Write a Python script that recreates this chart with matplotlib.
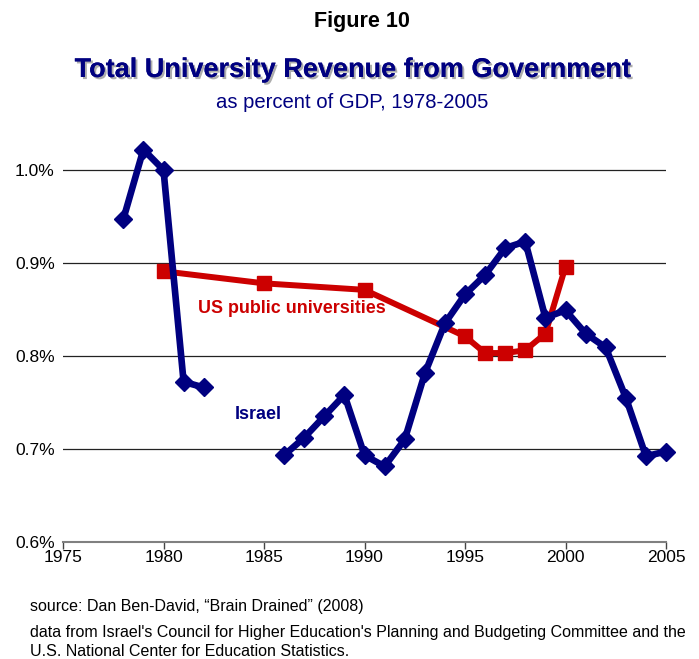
import matplotlib
matplotlib.use("Agg")
import matplotlib.pyplot as plt
import matplotlib.patheffects as pe

# Israel: gap between 1982 and 1986
isr_years1 = [1978, 1979, 1980, 1981, 1982]
isr_vals1 = [0.947, 1.022, 1.000, 0.772, 0.766]
isr_years2 = [1986, 1987, 1988, 1989, 1990, 1991, 1992, 1993, 1994, 1995,
              1996, 1997, 1998, 1999, 2000, 2001, 2002, 2003, 2004, 2005]
isr_vals2 = [0.693, 0.712, 0.735, 0.758, 0.693, 0.681, 0.710, 0.781, 0.835, 0.866,
             0.887, 0.916, 0.923, 0.841, 0.849, 0.824, 0.809, 0.755, 0.692, 0.697]

us_years = [1980, 1985, 1990, 1995, 1996, 1997, 1998, 1999, 2000]
us_vals = [0.891, 0.878, 0.871, 0.821, 0.803, 0.803, 0.806, 0.824, 0.896]

yticks = [0.6, 0.7, 0.8, 0.9, 1.0]
ytick_labels = ["0.6%", "0.7%", "0.8%", "0.9%", "1.0%"]
xticks = [1975, 1980, 1985, 1990, 1995, 2000, 2005]

navy = "#000080"
red = "#CC0000"
font = "Liberation Sans"

fig = plt.figure(figsize=(6.99, 6.59), dpi=100)
ax = fig.add_axes([63 / 699, 1 - 541.7 / 659, (666 - 63) / 699, (541.7 - 130) / 659])

for y in [0.7, 0.8, 0.9, 1.0]:
    ax.axhline(y, color="#222222", lw=0.9, zorder=1)

ax.plot(us_years, us_vals, color=red, lw=4.3, marker="s", ms=9.5,
        solid_joinstyle="round", zorder=3, clip_on=False)
ax.plot(isr_years1, isr_vals1, color=navy, lw=4.8, marker="D", ms=9.5,
        solid_joinstyle="round", zorder=4, clip_on=False)
ax.plot(isr_years2, isr_vals2, color=navy, lw=4.8, marker="D", ms=9.5,
        solid_joinstyle="round", zorder=4, clip_on=False)

ax.text(1986.4, 0.851, "US public universities", color=red, fontsize=12.9,
        fontweight="bold", family=font, ha="center", va="center")
ax.text(1984.7, 0.737, "Israel", color=navy, fontsize=13,
        fontweight="bold", family=font, ha="center", va="center")

ax.set_xlim(1975, 2005)
ax.set_ylim(0.6, 1.043)
ax.set_xticks(xticks)
ax.set_xticklabels([str(x) for x in xticks], family=font, fontsize=12.5)
ax.set_yticks(yticks)
ax.set_yticklabels(ytick_labels, family=font, fontsize=12.5)
ax.tick_params(axis="y", length=0, pad=6)
ax.tick_params(axis="x", length=5, width=1, color="#444444", pad=1, direction="out")
for s in ["top", "right", "left"]:
    ax.spines[s].set_visible(False)
ax.spines["bottom"].set_color("#808080")
ax.spines["bottom"].set_linewidth(1.5)

fig.text(362 / 699, 1 - 22 / 659, "Figure 10", family=font, fontsize=15.5,
         fontweight="bold", ha="center", va="center")
fig.text(353 / 699, 1 - 70 / 659, "Total University Revenue from Government",
         family=font, fontsize=19.5, fontweight="bold", color=navy,
         ha="center", va="center",
         path_effects=[pe.withSimplePatchShadow(offset=(1.5, -1.5),
                                                shadow_rgbFace="#999999", alpha=0.8),
                       pe.Normal()])
fig.text(352 / 699, 1 - 102 / 659, "as percent of GDP, 1978-2005", family=font,
         fontsize=14.6, color=navy, ha="center", va="center")

fig.text(30 / 699, 1 - 606 / 659, "source: Dan Ben-David, \u201cBrain Drained\u201d (2008)",
         family=font, fontsize=11.5, ha="left", va="center")
fig.text(30 / 699, 1 - 633 / 659,
         "data from Israel's Council for Higher Education's Planning and Budgeting Committee and the",
         family=font, fontsize=11.5, ha="left", va="center")
fig.text(30 / 699, 1 - 651 / 659, "U.S. National Center for Education Statistics.",
         family=font, fontsize=11.5, ha="left", va="center")

fig.savefig("out.png", dpi=100)
